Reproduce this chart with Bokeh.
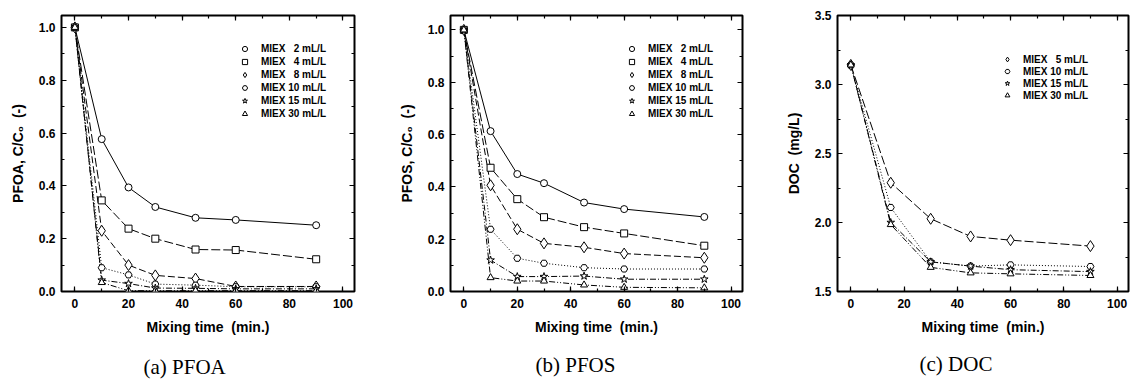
from bokeh.plotting import figure
from bokeh.models import (Range1d, LinearAxis, SingleIntervalTicker, NumeralTickFormatter,
                          Legend, LegendItem, Title)
from bokeh.layouts import row
from bokeh.embed import file_html
from bokeh.resources import INLINE

# ---------------- data ----------------
time_ab = [0, 10, 20, 30, 45, 60, 90]
pfoa_2 = [1.0, 0.577, 0.394, 0.320, 0.279, 0.271, 0.251]
pfoa_4 = [1.0, 0.345, 0.238, 0.200, 0.159, 0.157, 0.122]
pfoa_8 = [1.0, 0.230, 0.100, 0.061, 0.049, 0.019, 0.019]
pfoa_10 = [1.0, 0.090, 0.063, 0.028, 0.024, 0.018, 0.018]
pfoa_15 = [1.0, 0.043, 0.030, 0.013, 0.012, 0.010, 0.010]
pfoa_30 = [1.0, 0.034, 0.003, 0.003, 0.003, 0.003, 0.003]

pfos_2 = [1.0, 0.613, 0.449, 0.414, 0.340, 0.315, 0.285]
pfos_4 = [1.0, 0.473, 0.353, 0.284, 0.246, 0.222, 0.175]
pfos_8 = [1.0, 0.406, 0.238, 0.184, 0.169, 0.145, 0.129]
pfos_10 = [1.0, 0.238, 0.127, 0.108, 0.091, 0.086, 0.086]
pfos_15 = [1.0, 0.120, 0.057, 0.057, 0.059, 0.047, 0.047]
pfos_30 = [1.0, 0.053, 0.040, 0.040, 0.025, 0.016, 0.014]

time_c = [0, 15, 30, 45, 60, 90]
doc_5 = [3.142, 2.288, 2.027, 1.899, 1.872, 1.829]
doc_10 = [3.142, 2.109, 1.715, 1.684, 1.693, 1.681]
doc_15 = [3.142, 2.000, 1.715, 1.684, 1.658, 1.644]
doc_30 = [3.142, 1.985, 1.675, 1.635, 1.628, 1.616]

labels_ab = ["MIEX\u00a0\u00a0\u00a02 mL/L", "MIEX\u00a0\u00a0\u00a04 mL/L", "MIEX\u00a0\u00a0\u00a08 mL/L",
             "MIEX 10 mL/L", "MIEX 15 mL/L", "MIEX 30 mL/L"]
labels_c = ["MIEX\u00a0\u00a0\u00a05 mL/L", "MIEX 10 mL/L", "MIEX 15 mL/L", "MIEX 30 mL/L"]
captions = ["(a) PFOA", "(b) PFOS", "(c) DOC"]
x_label = "Mixing time\u00a0 (min.)"
y_labels = ["PFOA, C/C\u2080\u00a0 (-)", "PFOS, C/C\u2080\u00a0 (-)", "DOC\u00a0 (mg/L)"]

# styles: (marker, size, dash)
ST_2 = ("circle", 7, "solid")
ST_4 = ("square", 7, "9 3")
ST_8 = ("diamond", 11, "7 3")
ST_10 = ("hex", 7, "1 2")
ST_15 = ("star", 8, "6 2 1 2")
ST_30 = ("triangle", 7, "6 2 1 2 1 2")
ST_5 = ("diamond", 11, "9 3")

FONT = "Liberation Sans"
FIG_H = 384


def make_panel(x, series, labels, styles, yr, ylabel, yint, width, borders,
               leg_loc, leg_h, leg_std, caption, cap_off, cap_gap):
    bl, br, bt, bb = borders
    p = figure(width=width, height=FIG_H, x_range=Range1d(-5, 104.3), y_range=Range1d(*yr),
               output_backend="svg", toolbar_location=None,
               min_border_left=bl, min_border_right=br, min_border_top=bt, min_border_bottom=bb)
    p.grid.visible = False
    p.outline_line_color = "black"
    p.outline_line_width = 2
    p.background_fill_color = "white"
    p.border_fill_color = "white"

    bx = p.below[0]
    ly = p.left[0]
    xt = SingleIntervalTicker(interval=20, num_minor_ticks=2)
    yt = SingleIntervalTicker(interval=yint, num_minor_ticks=2)
    bx.ticker = xt
    ly.ticker = yt
    ly.formatter = NumeralTickFormatter(format="0.0")
    bx.axis_label = x_label
    ly.axis_label = ylabel

    ax_r = LinearAxis(ticker=yt)
    ax_t = LinearAxis(ticker=xt)
    for ax in [ax_r, ax_t]:
        ax.major_label_text_font_size = "0px"
        ax.major_label_standoff = 0
        ax.major_label_text_color = None
        ax.axis_label = None
    p.add_layout(ax_r, "right")
    p.add_layout(ax_t, "above")

    for ax in [bx, ly, ax_r, ax_t]:
        ax.axis_line_color = None
        ax.major_tick_in = 5
        ax.major_tick_out = 0
        ax.minor_tick_in = 3
        ax.minor_tick_out = 0
        ax.major_tick_line_color = "black"
        ax.minor_tick_line_color = "black"
        ax.major_tick_line_width = 1.2
        ax.minor_tick_line_width = 1.2
    for ax in [bx, ly]:
        ax.major_label_text_font = FONT
        ax.major_label_text_font_style = "bold"
        ax.major_label_text_font_size = "12px"
        ax.major_label_text_color = "black"
        ax.axis_label_text_font = FONT
        ax.axis_label_text_font_style = "bold"
        ax.axis_label_text_font_size = "14px"
        ax.axis_label_text_color = "black"
    bx.major_label_standoff = 7
    bx.axis_label_standoff = 8
    ly.major_label_standoff = 6
    ly.axis_label_standoff = 10

    # empty spacer axis between the x axis and the caption
    sp = LinearAxis(ticker=xt, axis_line_color=None, major_tick_line_color=None,
                    minor_tick_line_color=None, major_tick_in=0, major_tick_out=cap_gap,
                    minor_tick_in=0, minor_tick_out=0, major_label_standoff=0,
                    major_label_text_font_size="0px", major_label_text_color=None,
                    axis_label=None)
    p.add_layout(sp, "below")

    items = []
    for y, (mk, sz, dash) in zip(series, styles):
        p.line(x, y, line_color="black", line_width=1, line_dash=dash)
    for y, lab, (mk, sz, dash) in zip(series, labels, styles):
        r = p.scatter(x, y, marker=mk, size=sz, fill_color="white",
                      line_color="black", line_width=1)
        items.append(LegendItem(label=lab, renderers=[r]))

    leg = Legend(items=items, location=leg_loc, orientation="vertical", padding=0, margin=0,
                 spacing=0, glyph_width=leg_h, glyph_height=leg_h, label_height=leg_h,
                 label_standoff=leg_std, label_text_font=FONT, label_text_font_style="bold",
                 label_text_font_size="10px", label_text_color="black",
                 border_line_color=None, background_fill_alpha=0)
    p.add_layout(leg)

    p.add_layout(Title(text=caption, align="left", offset=cap_off, standoff=0,
                       text_font="Liberation Serif", text_font_style="normal",
                       text_font_size="21px", text_color="black"), "below")
    return p


styles_ab = [ST_2, ST_4, ST_8, ST_10, ST_15, ST_30]
styles_c = [ST_5, ST_10, ST_15, ST_30]

p1 = make_panel(time_ab, [pfoa_2, pfoa_4, pfoa_8, pfoa_10, pfoa_15, pfoa_30], labels_ab, styles_ab,
                (0, 1.045), y_labels[0], 0.2, 395, (61, 41, 13, FIG_H - 291),
                (177, 171), 13, 10, captions[0], 82, 15)
p2 = make_panel(time_ab, [pfos_2, pfos_4, pfos_8, pfos_10, pfos_15, pfos_30], labels_ab, styles_ab,
                (0, 1.055), y_labels[1], 0.2, 387, (55, 40, 14, FIG_H - 293),
                (175, 171), 13, 10, captions[1], 85, 13)
p3 = make_panel(time_c, [doc_5, doc_10, doc_15, doc_30], labels_c, styles_c,
                (1.5, 3.5), y_labels[2], 0.5, 348, (55, 2, 15, FIG_H - 294),
                (164, 190), 12, 10, captions[2], 82, 12)

layout = row(p1, p2, p3, spacing=0)
open("out.html", "w").write(file_html(layout, INLINE))
